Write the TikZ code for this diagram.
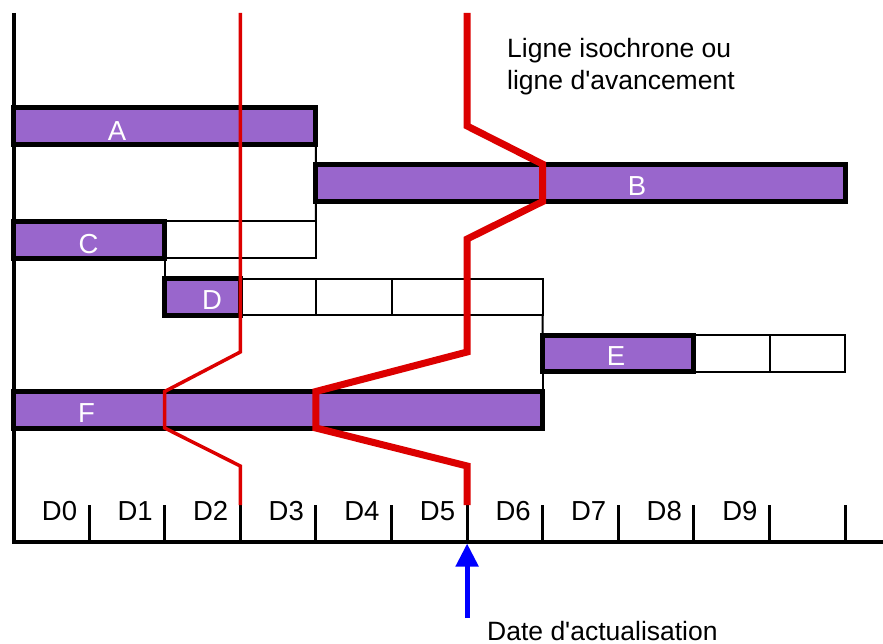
\documentclass[tikz,border=0pt]{standalone}
\usepackage{fontspec}
\setmainfont{Liberation Sans}
\usetikzlibrary{arrows.meta}
\definecolor{barpurple}{RGB}{153,102,204}
\definecolor{isored}{RGB}{220,0,0}
\tikzset{
  box/.style={rectangle, inner sep=0pt, outer sep=0pt, anchor=north west, minimum height=#1},
  bar/.style={box=#1, draw=black, line width=5pt, fill=barpurple},
  slot/.style={box=#1, draw=black, line width=2pt, fill=white},
  barlbl/.style={text=white, font=\fontsize{27.5}{32}\selectfont, inner sep=0pt},
  daylbl/.style={font=\fontsize{27.5}{32}\selectfont, inner sep=0pt, anchor=base},
  note/.style={font=\fontsize{26.5}{32}\selectfont, inner sep=0pt},
  link/.style={draw=black, line width=2pt},
  axis/.style={draw=black, line width=3.5pt},
  tick/.style={draw=black, line width=3pt},
  isothin/.style={draw=isored, line width=3.5pt},
  isothick/.style={draw=isored, line width=7pt},
  datearrow/.style={draw=blue, line width=5pt, -{Triangle[width=22pt,length=23pt]}}
}
\begin{document}
\begin{tikzpicture}[x=1pt,y=-1pt]
\path[fill=white,use as bounding box] (0,0) rectangle (883,644);
% slots (float cells)
\node[slot=37pt, minimum width=75.6pt] (C1) at (164.7,221.5) {};
\node[slot=37pt, minimum width=75.6pt] (C2) at (240.3,221.5) {};
\node[slot=36pt, minimum width=75.6pt] (D1) at (240.3,279) {};
\node[slot=36pt, minimum width=75.6pt] (D2) at (315.9,279) {};
\node[slot=36pt, minimum width=75.6pt] (D3) at (391.5,279) {};
\node[slot=36pt, minimum width=75.6pt] (D4) at (467.1,279) {};
\node[slot=36.3pt, minimum width=75.6pt] (E1) at (693.9,335.2) {};
\node[slot=36.3pt, minimum width=75.6pt] (E2) at (769.5,335.2) {};
% dependency links
\draw[link] (C1.south west) -- (164.7,279);
\draw[link] (D4.south east) -- (542.7,335.2);
\draw[link] (542.7,371.5) -- (542.7,391.5);
% bars
\node[bar=37pt, minimum width=302.4pt] (A) at (13.5,107.5) {};
\node[bar=37.3pt, minimum width=529.2pt] (B) at (315.9,164.2) {};
\node[bar=37pt, minimum width=151.2pt] (C) at (13.5,221.5) {};
\node[bar=36pt, minimum width=75.6pt] (D) at (164.7,279) {};
\node[bar=36.3pt, minimum width=151.2pt] (E) at (542.7,335.2) {};
\node[bar=36.7pt, minimum width=529.2pt] (F) at (13.5,391.5) {};
\draw[link] (A.south east) -- (C2.north east);
% bar labels
\node[barlbl] (lA) at (117,131) {A};
\node[barlbl] (lB) at (637,186) {B};
\node[barlbl] (lC) at (88.5,244) {C};
\node[barlbl] (lD) at (212,300) {D};
\node[barlbl] (lE) at (616,356) {E};
\node[barlbl] (lF) at (86.5,413) {F};
% axes
\draw[axis] (13.8,13) -- (13.8,542) -- (883,542);
\foreach \k in {1,...,11} {
  \draw[tick] ({13.5+75.6*\k},505) -- ({13.5+75.6*\k},542);
}
\foreach \k in {0,...,9} {
  \node[daylbl] (d\k) at ({59.5+75.6*\k},520) {D\k};
}
% isochrone lines
\draw[isothin] (240.3,13) -- (240.3,352) -- (164.7,391.5) -- (164.7,428) -- (240.3,466) -- (240.3,505);
\draw[isothick] (467.1,13) -- (467.1,126) -- (542.7,164.2) -- (542.7,201.5) -- (467.1,239) -- (467.1,352) -- (315.9,391.5) -- (315.9,428) -- (467.1,466) -- (467.1,505);
% annotations
\node[note, anchor=north west, align=left] (iso) at (507,38) {Ligne isochrone ou\\ligne d\textquotesingle avancement};
\node[note, anchor=base west] (date) at (487,640) {Date d\textquotesingle actualisation};
\coordinate (now) at (467.1,543.5);
\coordinate (foot) at (467.1,618);
\draw[datearrow] (foot) -- (now);
\end{tikzpicture}
\end{document}
